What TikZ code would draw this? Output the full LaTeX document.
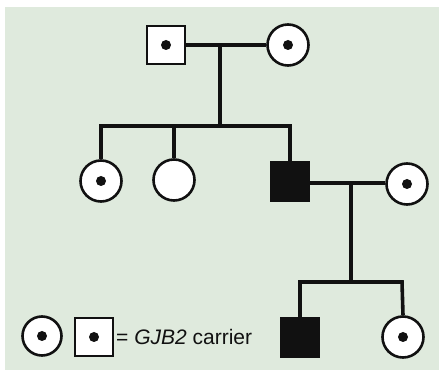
\documentclass[tikz,border=0pt]{standalone}
\usepackage{fontspec}
\setmainfont{Liberation Sans}
\definecolor{bgc}{RGB}{223,234,221}
\definecolor{ink}{RGB}{17,17,17}
\begin{document}
\begin{tikzpicture}[x=1pt,y=-1pt,
  male/.style={draw=ink,line width=2.6pt,fill=white,rectangle,minimum size=38pt,inner sep=0pt},
  female/.style={draw=ink,line width=2.6pt,fill=white,circle,minimum size=41pt,inner sep=0pt},
  affm/.style={male,fill=ink},
  link/.style={draw=ink,line width=3.6pt},
  dotc/.style={fill=ink}]
\useasboundingbox (0,0) rectangle (440,371);
\fill[bgc] (5,7) rectangle (439,370);
% generation I
\node[male] (f) at (166,45) {};
\node[female] (m) at (288,45) {};
% generation II
\node[female] (d1) at (101,181) {};
\node[female] (d2) at (174,180) {};
\node[affm] (s) at (290,181.5) {};
\node[female] (w) at (407,184) {};
% generation III
\node[affm] (g1) at (300,337.5) {};
\node[female] (g2) at (403,337) {};
% legend
\node[female,minimum size=39pt] (lc) at (42,336) {};
\node[male] (ls) at (94,337) {};
\node[anchor=west,font=\fontsize{21}{24}\selectfont,text=ink,inner sep=0pt] (lt) at (116,337) {= \textit{GJB2} carrier};
% dots
\foreach \n in {f,m,d1,w,g2,lc,ls} \fill[dotc] (\n.center) circle (5);
% connectors
\coordinate (c1) at (220,44);
\coordinate (c1b) at (220,126);
\coordinate (sb1) at (101,126);
\coordinate (sb2) at (174,126);
\coordinate (sb3) at (290,126);
\draw[link] (f.east) -- (m.west);
\draw[link] (c1) -- (c1b);
\draw[link] (d1.north) |- (sb3) -- (s.north);
\draw[link] (sb2) -- (d2.north);
\coordinate (c2) at (351,183);
\coordinate (c2b) at (351,282);
\coordinate (sb4) at (402,282);
\draw[link] (s.east |- c2) -- (w.west |- c2);
\draw[link] (c2) -- (c2b);
\draw[link] (g1.north) |- (sb4) -- (g2.north);
\end{tikzpicture}
\end{document}
